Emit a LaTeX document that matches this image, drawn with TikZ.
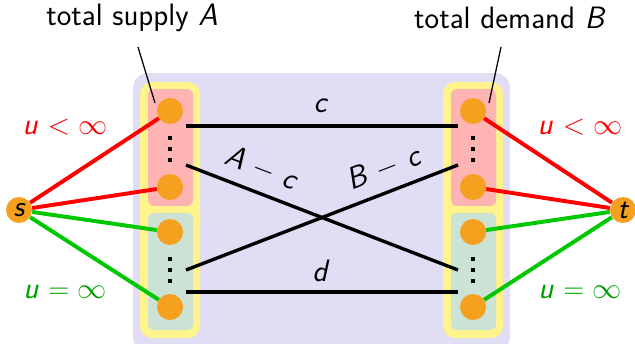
\documentclass[tikz,border=0pt]{standalone}
\usepackage{tikz}
\definecolor{bgpurple}{RGB}{224,221,245}
\definecolor{colyellow}{RGB}{255,243,140}
\definecolor{boxred}{RGB}{255,180,180}
\definecolor{boxgreen}{RGB}{204,226,212}
\definecolor{dotorange}{RGB}{245,160,30}
\definecolor{edgered}{RGB}{255,0,0}
\definecolor{edgegreen}{RGB}{0,200,0}
\definecolor{labgreen}{RGB}{0,160,0}
\tikzset{
  vert/.style={circle, fill=dotorange, inner sep=0pt, minimum size=0.65cm},
  term/.style={circle, fill=dotorange, inner sep=0pt, minimum size=0.65cm, font=\fontsize{21}{24}\selectfont\sffamily\itshape},
  redge/.style={edgered, line width=2.8pt},
  gedge/.style={edgegreen, line width=2.8pt},
  bedge/.style={black, line width=2.4pt},
  lab/.style={font=\fontsize{22}{26}\selectfont\sffamily, inner sep=1pt},
  dotmark/.style={black},
}
\newcommand{\vdotsat}[2]{%
  \fill[dotmark] (#1-1.6,#2-12.6) rectangle (#1+1.6,#2-9.4);
  \fill[dotmark] (#1-1.6,#2-1.6) rectangle (#1+1.6,#2+1.6);
  \fill[dotmark] (#1-1.6,#2+9.4) rectangle (#1+1.6,#2+12.6);}
\begin{document}
\begin{tikzpicture}[x=0.025cm, y=-0.025cm]
\useasboundingbox (0,0) rectangle (635,343);
% background panel
\fill[bgpurple, rounded corners=0.375cm] (133,73) rectangle (510,352);
% supply column
\fill[colyellow, rounded corners=0.3cm] (140,82) rectangle (200,338);
\fill[boxred, rounded corners=0.15cm] (148,89) rectangle (193,206);
\fill[boxgreen, rounded corners=0.15cm] (148,213) rectangle (193,330);
% demand column
\fill[colyellow, rounded corners=0.3cm] (443,82) rectangle (503,338);
\fill[boxred, rounded corners=0.15cm] (451,89) rectangle (496,206);
\fill[boxgreen, rounded corners=0.15cm] (451,213) rectangle (496,330);

% vertices
\node[vert] (l1) at (170,111) {};
\node[vert] (l2) at (170,187) {};
\node[vert] (l3) at (170,232) {};
\node[vert] (l4) at (170,307) {};
\node[vert] (r1) at (473,111) {};
\node[vert] (r2) at (473,187) {};
\node[vert] (r3) at (473,232) {};
\node[vert] (r4) at (473,307) {};
\vdotsat{170}{149}
\vdotsat{170}{270}
\vdotsat{473}{149}
\vdotsat{473}{270}
\node[term] (s) at (19,210) {s};
\node[term] (t) at (623,210) {t};

% source and sink edges
\draw[redge] (s) -- (l1);
\draw[redge] (s) -- (l2);
\draw[gedge] (s) -- (l3);
\draw[gedge] (s) -- (l4);
\draw[redge] (t) -- (r1);
\draw[redge] (t) -- (r2);
\draw[gedge] (t) -- (r3);
\draw[gedge] (t) -- (r4);

% transport edges
\coordinate (a1) at (186,126);
\coordinate (a2) at (186,165);
\coordinate (a3) at (186,270);
\coordinate (a4) at (186,292);
\coordinate (b1) at (458,126);
\coordinate (b2) at (458,165);
\coordinate (b3) at (458,270);
\coordinate (b4) at (458,292);
\draw[bedge] (a1) -- (b1);
\draw[bedge] (a2) -- (b3);
\draw[bedge] (a3) -- (b2);
\draw[bedge] (a4) -- (b4);
\node[lab] (lc) at (321,106) {\textit{c}};
\node[lab] (ld) at (321,271) {\textit{d}};
\node[lab, rotate=-21] (lac) at (262,168) {\textit{A} $-$ \textit{c}};
\node[lab, rotate=21] (lbc) at (384,168) {\textit{B} $-$ \textit{c}};

% capacity labels
\node[lab, text=edgered] (cl1) at (65,127) {\textit{u} $<\infty$};
\node[lab, text=labgreen] (cl2) at (65,292) {\textit{u} $=\infty$};
\node[lab, text=edgered] (cr1) at (580,127) {\textit{u} $<\infty$};
\node[lab, text=labgreen] (cr2) at (580,292) {\textit{u} $=\infty$};

% totals
\node[lab] (supA) at (132,18) {total supply \textit{A}};
\node[lab] (demB) at (510,18) {total demand \textit{B}};
\coordinate (pa) at (155,103);
\coordinate (pb) at (489,103);
\draw[black, line width=0.9pt] (138,47) -- (pa);
\draw[black, line width=0.9pt] (501,47) -- (pb);
\end{tikzpicture}
\end{document}
